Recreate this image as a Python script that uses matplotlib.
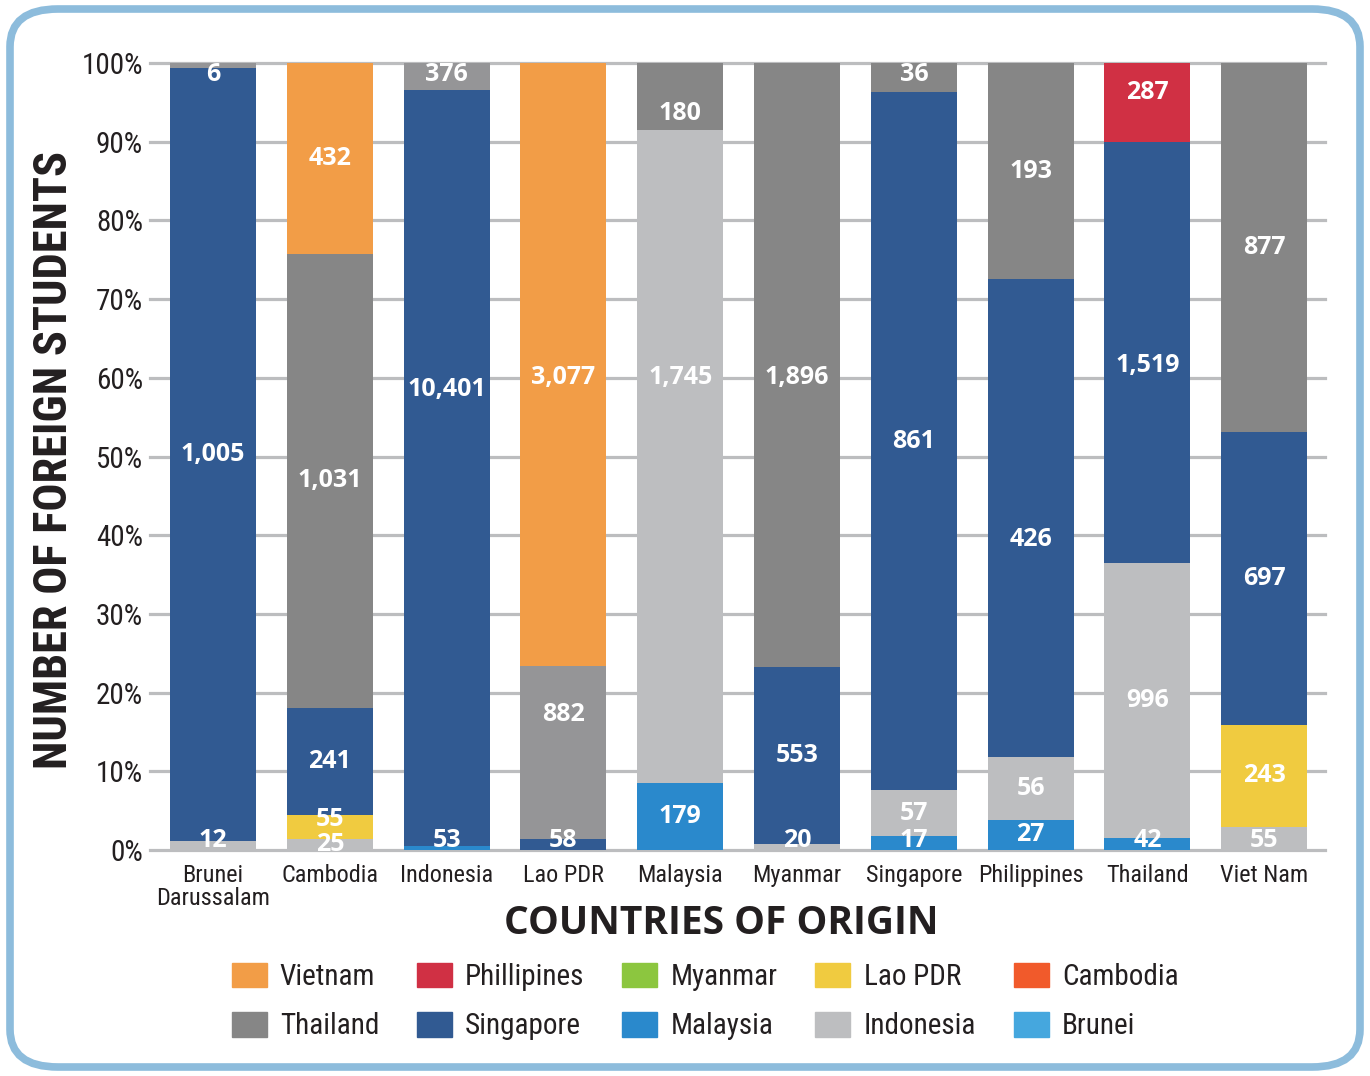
import matplotlib.pyplot as plt
from matplotlib.patches import FancyBboxPatch, Patch

countries = ["Brunei\nDarussalam", "Cambodia", "Indonesia", "Lao PDR", "Malaysia",
             "Myanmar", "Singapore", "Philippines", "Thailand", "Viet Nam"]

# number of students by destination, stacked bottom to top in this order
malaysia    = [0, 0, 53, 0, 179, 0, 17, 27, 42, 0]
indonesia   = [12, 25, 0, 0, 1745, 20, 57, 56, 996, 55]
lao_pdr     = [0, 55, 0, 0, 0, 0, 0, 0, 0, 243]
singapore   = [1005, 241, 10401, 58, 0, 553, 861, 426, 1519, 697]
thailand    = [6, 1031, 376, 882, 180, 1896, 36, 193, 0, 877]
phillipines = [0, 0, 0, 0, 0, 0, 0, 0, 287, 0]
vietnam     = [0, 432, 0, 3077, 0, 0, 0, 0, 0, 0]

stack = [("Malaysia", malaysia), ("Indonesia", indonesia), ("Lao PDR", lao_pdr),
         ("Singapore", singapore), ("Thailand", thailand),
         ("Phillipines", phillipines), ("Vietnam", vietnam)]

colors = {"Vietnam": "#f29d47", "Phillipines": "#d03044", "Myanmar": "#8cc63f",
          "Lao PDR": "#f0cb40", "Cambodia": "#f15a2b", "Thailand": "#868686",
          "Singapore": "#315a92", "Malaysia": "#2a89cc", "Indonesia": "#bdbec0",
          "Brunei": "#45a7de"}
muted_gray = "#959597"
muted_bars = [0, 2, 3]   # bars where the Thailand block is a lighter gray

legend_rows = [["Vietnam", "Phillipines", "Myanmar", "Lao PDR", "Cambodia"],
               ["Thailand", "Singapore", "Malaysia", "Indonesia", "Brunei"]]

# labels that sit off the middle of their block (percent height)
label_y = {(1, "Indonesia"): 0.7, (1, "Lao PDR"): 3.9,
           (2, "Singapore"): 58.5, (3, "Vietnam"): 60.0, (3, "Thailand"): 17.2,
           (4, "Indonesia"): 60.0, (4, "Thailand"): 93.6, (5, "Thailand"): 60.0,
           (7, "Singapore"): 39.5, (8, "Singapore"): 61.5, (8, "Phillipines"): 96.3}

txt = "#231f20"
plain = ["Roboto Condensed", "Roboto", "DejaVu Sans"]
heavy = ["Open Sans", "DejaVu Sans"]
plt.rcParams["font.family"] = plain

fig = plt.figure(figsize=(13.7, 10.76), dpi=100)
ax = fig.add_axes([150 / 1370, 226 / 1076, 1175 / 1370, 787 / 1076])

frame = FancyBboxPatch((10 / 1370, 9 / 1076), 1350 / 1370, 1058 / 1076,
                       boxstyle="round,pad=0,rounding_size=0.035",
                       transform=fig.transFigure, facecolor="none",
                       edgecolor="#8dbcdc", linewidth=5.5, zorder=0)
fig.patches.append(frame)

x = range(len(countries))
totals = [sum(s[i] for _, s in stack) for i in x]
bottom = [0.0] * len(countries)
for name, vals in stack:
    for i in x:
        v = vals[i]
        if v == 0:
            continue
        h = v / totals[i] * 100
        c = colors[name]
        if name == "Thailand" and i in muted_bars:
            c = muted_gray
        ax.bar(i, h, bottom=bottom[i], width=0.736, color=c, zorder=3)
        if (i, name) in label_y:
            y = label_y[(i, name)]
        elif h < 3 and bottom[i] == 0:
            y = 1.2
        elif h < 4 and bottom[i] + h > 99.9:
            y = 98.6
        else:
            y = bottom[i] + h / 2
        ax.text(i, y, f"{v:,}", ha="center", va="center", color="white",
                fontsize=18, fontweight="bold", family=heavy, zorder=5)
        bottom[i] += h

ax.set_xlim(-0.54, 9.52)
ax.set_ylim(0, 100)
ax.set_yticks(range(0, 101, 10))
ax.set_yticklabels([f"{t}%" for t in range(0, 101, 10)])
ax.set_xticks(list(x))
ax.set_xticklabels(countries, linespacing=1.0)
ax.tick_params(length=0, colors=txt)
ax.tick_params(axis="y", pad=5, labelsize=21)
ax.tick_params(axis="x", pad=10, labelsize=17.5)
ax.grid(axis="y", color="#bcbdbf", linewidth=2.3, zorder=0)
ax.set_axisbelow(True)
for s in ax.spines.values():
    s.set_visible(False)
for gl in ax.get_ygridlines():
    gl.set_clip_on(False)

fig.text(54 / 1370, 1 - 460 / 1076, "NUMBER OF FOREIGN STUDENTS", rotation=90,
         ha="center", va="center", fontsize=33.5, fontweight="bold", color=txt)
fig.text(721 / 1370, 1 - 924 / 1076, "COUNTRIES OF ORIGIN", ha="center", va="center",
         fontsize=28, fontweight="bold", color=txt, family=heavy)

handles = []
for col in range(5):
    for row in legend_rows:
        handles.append(Patch(color=colors[row[col]], label=row[col]))
fig.legend(handles=handles, ncol=5, loc="upper left", frameon=False,
           bbox_to_anchor=(217 / 1370, 1 - 948 / 1076), borderpad=0,
           fontsize=21, handlelength=1.2, handleheight=0.92, handletextpad=0.45,
           labelspacing=0.72, columnspacing=1.3, labelcolor=txt)

fig.savefig("out.png", dpi=100, facecolor="white")
